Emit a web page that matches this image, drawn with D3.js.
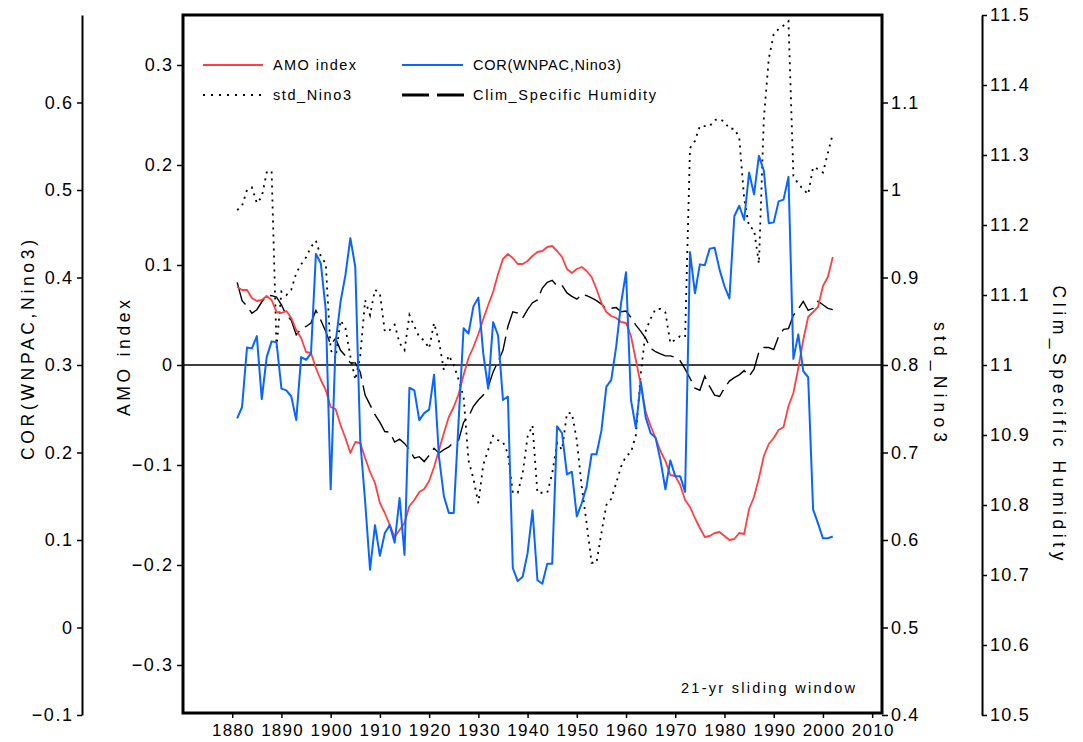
<!DOCTYPE html>
<html><head><meta charset="utf-8">
<script src="https://cdn.jsdelivr.net/npm/d3@7"></script>
<style>
body{margin:0;background:#fff}
svg text{font-family:"Liberation Sans",Arial,Helvetica,sans-serif;fill:#000}
</style>
</head><body>
<svg id="c" width="1083" height="742"></svg>
<script>
const startYear = 1881;
const amoIndex = [0.078,0.075,0.075,0.067,0.064,0.065,0.069,0.065,0.053,0.052,
0.054,0.047,0.035,0.027,0.013,0.012,-0.003,-0.015,-0.025,-0.042,
-0.044,-0.060,-0.073,-0.088,-0.077,-0.078,-0.093,-0.107,-0.118,-0.138,
-0.148,-0.160,-0.172,-0.165,-0.158,-0.141,-0.135,-0.127,-0.124,-0.116,
-0.102,-0.085,-0.068,-0.052,-0.042,-0.029,-0.010,0.007,0.018,0.031,
0.046,0.060,0.073,0.091,0.106,0.111,0.107,0.101,0.101,0.104,
0.109,0.113,0.114,0.118,0.119,0.114,0.108,0.096,0.092,0.096,
0.098,0.094,0.088,0.076,0.062,0.053,0.049,0.047,0.043,0.042,
0.029,0.005,-0.020,-0.047,-0.061,-0.073,-0.086,-0.096,-0.110,-0.111,
-0.120,-0.135,-0.142,-0.153,-0.163,-0.172,-0.171,-0.168,-0.167,-0.171,
-0.175,-0.174,-0.168,-0.169,-0.144,-0.132,-0.113,-0.091,-0.079,-0.073,
-0.065,-0.062,-0.041,-0.028,-0.003,0.025,0.048,0.053,0.058,0.079,
0.088,0.108];
const corWnpacNino3 = [0.239,0.252,0.320,0.319,0.333,0.261,0.309,0.327,0.326,0.273,
0.271,0.264,0.237,0.309,0.306,0.313,0.427,0.416,0.363,0.158,
0.325,0.372,0.403,0.445,0.412,0.214,0.144,0.066,0.117,0.082,
0.108,0.117,0.097,0.148,0.083,0.274,0.271,0.237,0.245,0.249,
0.289,0.195,0.150,0.131,0.131,0.237,0.342,0.336,0.367,0.377,
0.313,0.273,0.349,0.334,0.260,0.264,0.068,0.053,0.058,0.085,
0.134,0.054,0.050,0.073,0.073,0.230,0.222,0.175,0.178,0.127,
0.142,0.161,0.198,0.198,0.225,0.275,0.283,0.321,0.371,0.406,
0.260,0.228,0.281,0.240,0.222,0.217,0.191,0.158,0.191,0.173,
0.173,0.155,0.429,0.382,0.415,0.414,0.433,0.434,0.409,0.390,
0.376,0.470,0.482,0.466,0.520,0.495,0.539,0.522,0.462,0.463,
0.487,0.489,0.515,0.307,0.335,0.293,0.286,0.135,0.119,0.102,
0.102,0.104];
const stdNino3 = [0.977,0.982,1.000,1.003,0.985,0.992,1.020,1.022,0.820,0.884,
0.880,0.886,0.905,0.915,0.923,0.935,0.942,0.924,0.916,0.817,
0.808,0.851,0.842,0.810,0.783,0.810,0.874,0.857,0.886,0.882,
0.838,0.840,0.846,0.825,0.817,0.857,0.844,0.832,0.828,0.819,
0.848,0.827,0.794,0.811,0.800,0.783,0.764,0.691,0.670,0.642,
0.686,0.703,0.719,0.714,0.712,0.699,0.654,0.654,0.676,0.718,
0.731,0.654,0.654,0.654,0.676,0.711,0.703,0.745,0.745,0.714,
0.661,0.619,0.574,0.574,0.608,0.640,0.647,0.665,0.684,0.696,
0.700,0.720,0.790,0.839,0.853,0.864,0.864,0.860,0.825,0.829,
0.833,0.832,1.048,1.056,1.073,1.073,1.073,1.080,1.081,1.078,
1.070,1.070,1.060,0.990,0.958,0.955,0.916,1.082,1.150,1.178,
1.184,1.188,1.193,1.016,1.007,1.001,0.995,1.026,1.024,1.020,
1.042,1.064];
const climSpecificHumidity = [11.118,11.092,11.084,11.074,11.079,11.090,11.100,11.099,11.097,11.086,
11.071,11.064,11.043,11.052,11.055,11.060,11.078,11.064,11.048,11.029,
11.038,11.021,11.013,11.003,11.003,10.990,10.957,10.943,10.929,10.918,
10.905,10.904,10.890,10.894,10.888,10.879,10.867,10.869,10.862,10.871,
10.881,10.874,10.879,10.883,10.890,10.893,10.918,10.926,10.941,10.950,
10.957,10.969,10.990,11.005,11.021,11.055,11.076,11.074,11.067,11.079,
11.089,11.093,11.110,11.118,11.121,11.113,11.114,11.103,11.098,11.094,
11.101,11.099,11.096,11.092,11.087,11.080,11.081,11.082,11.076,11.077,
11.068,11.057,11.048,11.038,11.024,11.019,11.016,11.013,11.013,11.011,
11.006,10.994,10.981,10.967,10.964,10.984,10.969,10.957,10.955,10.967,
10.977,10.982,10.986,10.992,10.984,10.994,11.019,11.025,11.025,11.022,
11.041,11.051,11.052,11.071,11.080,11.091,11.078,11.081,11.091,11.086,
11.081,11.079];
const xTickValues = [1880,1890,1900,1910,1920,1930,1940,1950,1960,1970,1980,1990,2000,2010];
const amoTicks = [-0.3,-0.2,-0.1,0,0.1,0.2,0.3];
const corTicks = [-0.1,0,0.1,0.2,0.3,0.4,0.5,0.6];
const stdTicks = [0.4,0.5,0.6,0.7,0.8,0.9,1.0,1.1];
const climTicks = [10.5,10.6,10.7,10.8,10.9,11.0,11.1,11.2,11.3,11.4,11.5];
const seriesNames = ["AMO index","COR(WNPAC,Nino3)","std_Nino3","Clim_Specific Humidity"];
const axisTitles = ["COR(WNPAC,Nino3)","AMO index","std_Nino3","Clim_Specific Humidity"];
const note = "21-yr sliding window";

const years = amoIndex.map((d,i)=>startYear+i);
const L=183, R=882, T=15, B=713;
const svg = d3.select("#c");
const x = d3.scaleLinear().domain([1870,2012]).range([L,R]);
const yAmo = d3.scaleLinear().domain([-0.35,0.35]).range([715,15]);
const yCor = d3.scaleLinear().domain([-0.1,0.7]).range([715,15]);
const yStd = d3.scaleLinear().domain([0.4,1.2]).range([715,15]);
const yClim = d3.scaleLinear().domain([10.5,11.5]).range([715,15]);

const minus = v => (v<0? "\u2212":"") + String(+Math.abs(v).toFixed(2));
const FONT = '"Liberation Sans", Arial, Helvetica, sans-serif';

// label width estimate to mimic the wide NCL font
function labelWidth(s, digitW){
  let w = 0;
  for (const ch of s){
    if (ch === ".") w += digitW*0.42;
    else if (ch === "\u2212") w += digitW*1.15;
    else w += digitW;
  }
  return w;
}

svg.append("defs").append("clipPath").attr("id","clip")
  .append("rect").attr("x",L).attr("y",T).attr("width",R-L).attr("height",B-T);

// zero line
svg.append("line").attr("x1",L).attr("x2",R).attr("y1",yAmo(0)).attr("y2",yAmo(0))
  .attr("stroke","#000").attr("stroke-width",1.3);

function styleAxis(g, fs, digitW){
  g.attr("font-size", fs).attr("font-family", FONT);
  g.selectAll(".tick line").attr("stroke","#000").attr("stroke-width",1.5);
  g.selectAll(".tick text")
    .attr("font-size", fs).attr("font-family", FONT)
    .attr("textLength", function(){ return labelWidth(this.textContent, digitW); })
    .attr("lengthAdjust","spacing");
}

// x axis
const gx = svg.append("g").attr("transform",`translate(0,${B})`)
  .call(d3.axisBottom(x).tickValues(xTickValues).tickFormat(d3.format("d")).tickSize(5).tickPadding(6).tickSizeOuter(0));
gx.select(".domain").remove();
styleAxis(gx,17,10.4);

// AMO axis
const ga = svg.append("g").attr("transform",`translate(${L},0)`)
  .call(d3.axisLeft(yAmo).tickValues(amoTicks).tickFormat(minus).tickSize(6).tickPadding(5));
ga.select(".domain").remove();
styleAxis(ga,18,11.3);

// std axis
const gs = svg.append("g").attr("transform",`translate(${R},0)`)
  .call(d3.axisRight(yStd).tickValues(stdTicks).tickFormat(minus).tickSize(6).tickPadding(3));
gs.select(".domain").remove();
styleAxis(gs,18,11.3);

// COR axis
const gc = svg.append("g").attr("transform",`translate(82,0)`)
  .call(d3.axisLeft(yCor).tickValues(corTicks).tickFormat(minus).tickSize(5).tickPadding(5).tickSizeOuter(0));
gc.select(".domain").attr("stroke","#000").attr("stroke-width",2);
styleAxis(gc,18,11.3);

// Clim axis
const gh = svg.append("g").attr("transform",`translate(982,0)`)
  .call(d3.axisRight(yClim).tickValues(climTicks).tickFormat(d=>String(+d.toFixed(1))).tickSize(5).tickPadding(3).tickSizeOuter(0));
gh.select(".domain").attr("stroke","#000").attr("stroke-width",2);
styleAxis(gh,18,11.3);

// series
const plot = svg.append("g").attr("clip-path","url(#clip)");
const mk = (arr, ys) => d3.line().x((d,i)=>x(years[i])).y(d=>ys(d))(arr);
plot.append("path").attr("d",mk(stdNino3,yStd)).attr("fill","none")
  .attr("stroke","#000").attr("stroke-width",1.8).attr("stroke-dasharray","2,5");
plot.append("path").attr("d",mk(climSpecificHumidity,yClim)).attr("fill","none")
  .attr("stroke","#000").attr("stroke-width",1.4).attr("stroke-dasharray","24,7");
plot.append("path").attr("d",mk(amoIndex,yAmo)).attr("fill","none")
  .attr("stroke","#ff4040").attr("stroke-width",1.8).attr("stroke-linejoin","round");
plot.append("path").attr("d",mk(corWnpacNino3,yCor)).attr("fill","none")
  .attr("stroke","#0a64ff").attr("stroke-width",2).attr("stroke-linejoin","round");

// box
svg.append("rect").attr("x",L).attr("y",T).attr("width",R-L).attr("height",B-T)
  .attr("fill","none").attr("stroke","#000").attr("stroke-width",3);

// legend
const leg = [
  {x1:203,x2:263,y:65,tx:273,w:83,name:seriesNames[0],stroke:"#ff4040",sw:2,dash:null},
  {x1:402,x2:463,y:65,tx:473,w:148,name:seriesNames[1],stroke:"#0a64ff",sw:2,dash:null},
  {x1:203,x2:263,y:95,tx:273,w:78,name:seriesNames[2],stroke:"#000",sw:2,dash:"2,6"},
  {x1:402,x2:464,y:95,tx:473,w:183,name:seriesNames[3],stroke:"#000",sw:3,dash:"27,8"}
];
leg.forEach(l=>{
  const ln = svg.append("line").attr("x1",l.x1).attr("x2",l.x2).attr("y1",l.y).attr("y2",l.y)
    .attr("stroke",l.stroke).attr("stroke-width",l.sw);
  if(l.dash) ln.attr("stroke-dasharray",l.dash);
  svg.append("text").attr("x",l.tx).attr("y",l.y+5).attr("font-size",14.5).attr("font-family",FONT)
    .attr("textLength",l.w).attr("lengthAdjust","spacing").text(l.name);
});

svg.append("text").attr("x",681).attr("y",693).attr("font-size",14.5).attr("font-family",FONT)
  .attr("textLength",174).attr("lengthAdjust","spacing").text(note);

// axis titles
function vtitle(txt,cx,cy,rot,len){
  svg.append("text").attr("transform",`translate(${cx},${cy}) rotate(${rot})`)
    .attr("text-anchor","middle").attr("dy","0.35em").attr("font-size",17.5).attr("font-family",FONT)
    .attr("textLength",len).attr("lengthAdjust","spacing").text(txt);
}
vtitle(axisTitles[0],28,350,-90,220);
vtitle(axisTitles[1],124,358,-90,116);
vtitle(axisTitles[2],940,382,90,120);
vtitle(axisTitles[3],1059,423,90,275);
</script>
</body></html>
